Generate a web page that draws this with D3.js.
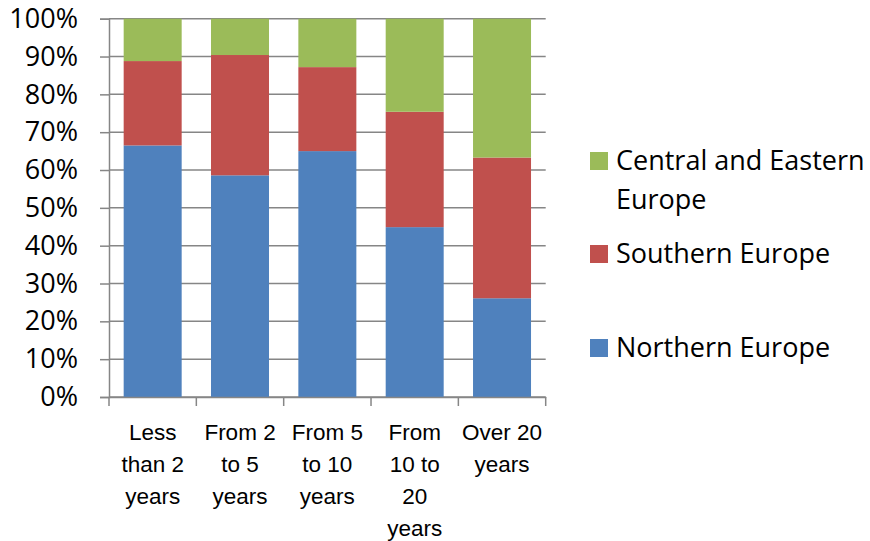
<!DOCTYPE html>
<html>
<head>
<meta charset="utf-8">
<script src="https://cdn.jsdelivr.net/npm/d3@7"></script>
<style>
  html, body { margin: 0; padding: 0; background: #fff; }
  svg { display: block; font-family: "Open Sans", "DejaVu Sans", sans-serif; }
</style>
</head>
<body>
<svg id="chart" width="870" height="541"></svg>
<script>
// Category labels (line breaks as shown under each bar)
const categories = [
  "Less\nthan 2\nyears",
  "From 2\nto 5\nyears",
  "From 5\nto 10\nyears",
  "From\n10 to\n20\nyears",
  "Over 20\nyears"
];

// Share of each region per category (percent)
const northern = [66.5, 58.6, 65.0, 44.9, 26.1];
const southern = [22.3, 31.8, 22.2, 30.5, 37.2];
const central  = [11.2,  9.6, 12.8, 24.6, 36.7];

const seriesNames = ["Northern Europe", "Southern Europe", "Central and Eastern Europe"];
const seriesColors = ["#4F81BD", "#C0504D", "#9BBB59"];
const yTicks = [0, 10, 20, 30, 40, 50, 60, 70, 80, 90, 100];

const svg = d3.select("#chart");
const plot = { left: 109, right: 545.7, top: 18.7, bottom: 397 };

const rows = categories.map((c, i) => ({
  cat: c,
  "Northern Europe": northern[i],
  "Southern Europe": southern[i],
  "Central and Eastern Europe": central[i]
}));

const stacked = d3.stack().keys(seriesNames)(rows);

const x = d3.scaleBand()
  .domain(categories)
  .range([plot.left, plot.right])
  .paddingInner(0.336)
  .paddingOuter(0.168);

const y = d3.scaleLinear().domain([0, 100]).range([plot.bottom, plot.top]);

const color = d3.scaleOrdinal().domain(seriesNames).range(seriesColors);

// Horizontal gridlines
svg.append("g")
  .selectAll("line")
  .data(yTicks)
  .join("line")
  .attr("x1", plot.left)
  .attr("x2", plot.right)
  .attr("y1", d => y(d))
  .attr("y2", d => y(d))
  .attr("stroke", "#868686")
  .attr("stroke-width", 1.5);

// Stacked bars
svg.append("g")
  .selectAll("g")
  .data(stacked)
  .join("g")
  .attr("fill", d => color(d.key))
  .selectAll("rect")
  .data(d => d)
  .join("rect")
  .attr("x", d => x(d.data.cat))
  .attr("width", x.bandwidth())
  .attr("y", d => y(d[1]))
  .attr("height", d => y(d[0]) - y(d[1]));

// Y axis
const yAxis = svg.append("g")
  .attr("transform", `translate(${plot.left},0)`)
  .call(d3.axisLeft(y).tickValues(yTicks).tickFormat(d => d + "%").tickSize(9).tickPadding(22));
yAxis.select(".domain").attr("stroke", "#868686").attr("stroke-width", 1.5);
yAxis.selectAll(".tick line").attr("stroke", "#868686").attr("stroke-width", 1.5);
yAxis.selectAll("text")
  .attr("x", -31)
  .attr("fill", "#000")
  .style("font-size", "27px")
  .style("font-family", "\"Open Sans\", sans-serif");

// X axis
const xAxis = svg.append("g")
  .attr("transform", `translate(0,${plot.bottom})`)
  .call(d3.axisBottom(x).tickSize(0).tickFormat(""));
xAxis.select(".domain").attr("stroke", "#868686").attr("stroke-width", 1.5);

// Category boundary ticks
const boundaries = d3.range(categories.length + 1).map(i => plot.left + i * x.step());
xAxis.append("g")
  .selectAll("line")
  .data(boundaries)
  .join("line")
  .attr("x1", d => d).attr("x2", d => d)
  .attr("y1", 0).attr("y2", 9)
  .attr("stroke", "#868686")
  .attr("stroke-width", 1.5);

// Category labels
xAxis.append("g")
  .selectAll("text")
  .data(categories)
  .join("text")
  .attr("text-anchor", "middle")
  .attr("fill", "#000")
  .style("font-size", "22.5px")
  .attr("transform", d => `translate(${x(d) + x.bandwidth() / 2},0)`)
  .each(function (d) {
    const t = d3.select(this);
    d.split("\n").forEach((line, i) => {
      t.append("tspan").attr("x", 0).attr("y", 43 + i * 32).text(line);
    });
  });

// Legend
const legendItems = [
  { name: "Central and Eastern Europe", lines: ["Central and Eastern", "Europe"], y: 152 },
  { name: "Southern Europe", lines: ["Southern Europe"], y: 245 },
  { name: "Northern Europe", lines: ["Northern Europe"], y: 339 }
];
const legend = svg.append("g");
const li = legend.selectAll("g").data(legendItems).join("g")
  .attr("transform", d => `translate(590,${d.y})`);
li.append("rect").attr("width", 18).attr("height", 18).attr("fill", d => color(d.name));
li.append("text")
  .attr("fill", "#000")
  .style("font-size", "27px")
  .each(function (d) {
    const t = d3.select(this);
    d.lines.forEach((line, i) => {
      t.append("tspan").attr("x", 26).attr("y", 18 + i * 39).text(line);
    });
  });
</script>
</body>
</html>
